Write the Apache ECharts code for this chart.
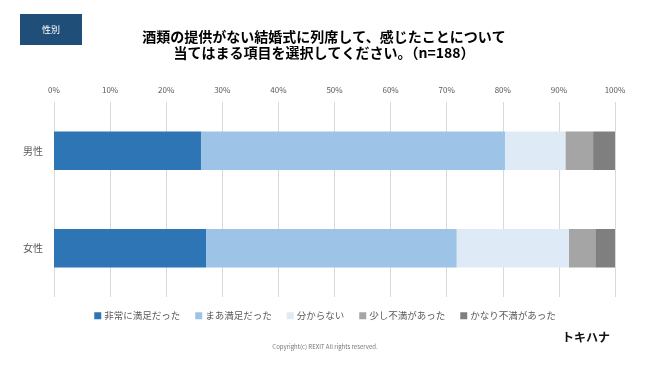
<!DOCTYPE html>
<html><head><meta charset="utf-8">
<script src="https://cdn.jsdelivr.net/npm/echarts@6/dist/echarts.min.js"></script>
<style>html,body{margin:0;padding:0;background:#fff}#c{width:650px;height:366px}</style>
</head><body><div id="c"></div>
<script>
const categories = ['男性', '女性'];
const seriesNames = ['非常に満足だった', 'まあ満足だった', '分からない', '少し不満があった', 'かなり不満があった'];
const verySatisfied = [26.2, 27.1];
const somewhatSatisfied = [54.2, 44.7];
const dontKnow = [10.8, 20.0];
const slightlyDissatisfied = [4.9, 4.7];
const veryDissatisfied = [3.9, 3.5];
const xTicks = [0, 10, 20, 30, 40, 50, 60, 70, 80, 90, 100];
const colors = ['#2E75B6', '#9DC3E6', '#DEEBF7', '#A5A5A5', '#7F7F7F'];
const values = [verySatisfied, somewhatSatisfied, dontKnow, slightlyDissatisfied, veryDissatisfied];
const FONT = '"Noto Sans CJK JP", "Noto Sans", sans-serif';

const chart = echarts.init(document.getElementById('c'), null, {renderer: 'canvas'});
chart.setOption({
  animation: false,
  textStyle: {fontFamily: FONT},
  title: {
    text: '酒類の提供がない結婚式に列席して、感じたことについて\n当てはまる項目を選択してください。（n=188）',
    left: 324, top: 29, textAlign: 'center', padding: 0,
    textStyle: {fontFamily: FONT, fontSize: 14, fontWeight: 'bold', color: '#000', lineHeight: 16}
  },
  graphic: [
    {type: 'rect', shape: {x: 20, y: 14, width: 62, height: 31}, style: {fill: '#1F4E79'}},
    {type: 'text', x: 51, y: 29.5, style: {text: '性別', fill: '#fff', font: '9px ' + FONT, textAlign: 'center', textVerticalAlign: 'middle'}},
    {type: 'text', x: 586, y: 337, style: {text: 'トキハナ', fill: '#111', font: 'bold 12px ' + FONT, textAlign: 'center', textVerticalAlign: 'middle'}},
    {type: 'text', x: 325, y: 347, style: {text: 'Copyright(c) REXIT All rights reserved.', fill: '#777', font: '6px ' + FONT, textAlign: 'center', textVerticalAlign: 'middle'}}
  ],
  legend: {
    data: seriesNames, left: 'center', top: 306,
    itemWidth: 7, itemHeight: 7, itemGap: 15,
    icon: 'rect',
    textStyle: {fontFamily: FONT, fontSize: 9.5, color: '#595959', padding: [0, 0, 0, -2]}
  },
  grid: {left: 54, right: 35, top: 102, bottom: 69, containLabel: false},
  xAxis: {
    type: 'value', position: 'top', min: 0, max: 100, interval: 10,
    axisLine: {show: false}, axisTick: {show: false},
    axisLabel: {formatter: v => xTicks.includes(v) ? v + '%' : '', fontSize: 8, color: '#595959', margin: 8, fontFamily: FONT},
    splitLine: {show: true, lineStyle: {color: '#D9D9D9', width: 1}}
  },
  yAxis: {
    type: 'category', data: categories, inverse: true,
    axisLine: {show: false}, axisTick: {show: false},
    axisLabel: {fontSize: 10, color: '#595959', margin: 11, fontFamily: FONT}
  },
  series: seriesNames.map((n, i) => ({
    name: n, type: 'bar', stack: 'total', data: values[i],
    barWidth: '39.5%', itemStyle: {color: colors[i]}
  }))
});
</script></body></html>
